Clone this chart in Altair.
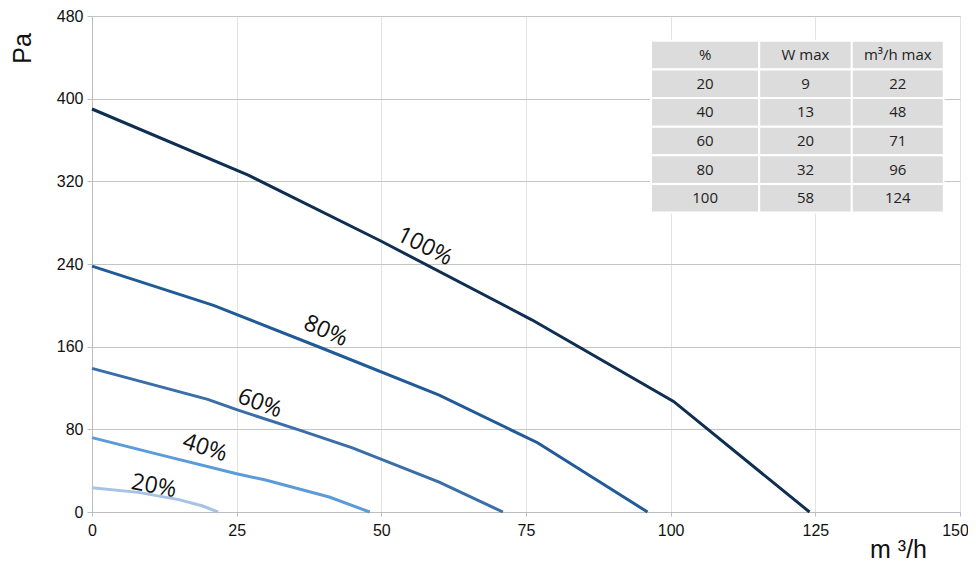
import altair as alt
import pandas as pd

# ---- curve data (m3/h, Pa) ----
flow_100 = [0, 27, 50, 76, 100.5, 124]
pres_100 = [390, 326, 262, 186, 107, 0]
flow_80 = [0, 21, 40, 60, 77, 96]
pres_80 = [238, 200, 158, 113, 67, 0]
flow_60 = [0, 20, 25, 36, 45, 60, 71]
pres_60 = [139, 109, 99, 79, 62, 29, 0]
flow_40 = [0, 12, 25, 30, 41, 48]
pres_40 = [72, 55, 37, 31, 14.5, 0]
flow_20 = [0, 8, 15, 19, 21.8]
pres_20 = [23.5, 19, 12, 6, 0]

series_names = ["100%", "80%", "60%", "40%", "20%"]
series_colors = ["#0e2f52", "#215b97", "#3a6ea8", "#5b9bd8", "#a6c3e6"]

# curve label placement (m3/h, Pa, angle)
label_x = [57.5, 40.4, 29.0, 19.5, 10.7]
label_y = [257, 175, 105, 62, 25]
label_angle = [27, 24, 20, 18, 11]

# ---- table data ----
tbl_header = ["%", "W max", "m³/h max"]
tbl_pct = ["20", "40", "60", "80", "100"]
tbl_w = ["9", "13", "20", "32", "58"]
tbl_m3h = ["22", "48", "71", "96", "124"]

# table geometry in data units
col_edges = [96.6, 115.3, 131.3, 147.2]
row_top = 456
row_h = 27.7

x_ticks = [0, 25, 50, 75, 100, 125, 150]
y_ticks = [0, 80, 160, 240, 320, 400, 480]

rows = []
for name, fx, py in zip(series_names,
                        [flow_100, flow_80, flow_60, flow_40, flow_20],
                        [pres_100, pres_80, pres_60, pres_40, pres_20]):
    for i, (a, b) in enumerate(zip(fx, py)):
        rows.append({"series": name, "flow": a, "pa": b, "order": i})
curves = pd.DataFrame(rows)

labels = pd.DataFrame({"series": series_names, "x": label_x, "y": label_y, "angle": label_angle})

cells = []
table_rows = [tbl_header] + [list(r) for r in zip(tbl_pct, tbl_w, tbl_m3h)]
for r, row in enumerate(table_rows):
    for c, txt in enumerate(row):
        cells.append({
            "x1": col_edges[c], "x2": col_edges[c + 1],
            "xc": (col_edges[c] + col_edges[c + 1]) / 2,
            "y1": row_top - r * row_h, "y2": row_top - (r + 1) * row_h,
            "yc": row_top - (r + 0.5) * row_h,
            "txt": txt,
        })
cells = pd.DataFrame(cells)

xscale = alt.Scale(domain=[0, 150], nice=False, zero=False)
yscale = alt.Scale(domain=[0, 480], nice=False, zero=False)

color = alt.Color("series:N", scale=alt.Scale(domain=series_names, range=series_colors), legend=None)

base_x = alt.X("flow:Q", scale=xscale,
               axis=alt.Axis(values=x_ticks, title="m ³/h", grid=True, gridColor="#e3e3e3",
                             domainColor="#bdbdbd", tickColor="#bdbdbd", tickSize=4,
                             labelFontSize=16, labelColor="#111", labelFont="Liberation Sans",
                             labelPadding=6, labelFlush=False,
                             labelOffset={"condition": {"test": "datum.value == 150", "value": -5}, "value": 0},
                             titleFontSize=25, titleFont="Liberation Sans", titleFontWeight="normal",
                             titleColor="#111", titleX=806, titleY=45, titleAlign="center",
                             titleBaseline="alphabetic"))
base_y = alt.Y("pa:Q", scale=yscale,
               axis=alt.Axis(values=y_ticks, title="Pa", grid=True, gridColor="#c4c4c4",
                             domainColor="#bdbdbd", tickColor="#bdbdbd", tickSize=5,
                             labelFontSize=16, labelColor="#111", labelFont="Liberation Sans",
                             labelPadding=4,
                             titleFontSize=25, titleFont="Liberation Sans", titleFontWeight="normal",
                             titleColor="#111", titleX=-57, titleY=32, titleAlign="center",
                             titleAngle=-90, titleBaseline="bottom"))

lines = alt.Chart(curves).mark_line(strokeWidth=3, strokeCap="butt").encode(
    x=base_x, y=base_y, color=color, order="order:Q", detail="series:N")

text_labels = alt.Chart(labels).mark_text(font="Open Sans", fontSize=23, color="#111").encode(
    x=alt.X("x:Q", scale=xscale), y=alt.Y("y:Q", scale=yscale), text="series:N",
    angle=alt.Angle("angle:Q", scale=None))

cell_rects = alt.Chart(cells).mark_rect(fill="#dcdcdd", stroke="white", strokeWidth=2).encode(
    x=alt.X("x1:Q", scale=xscale), x2="x2:Q",
    y=alt.Y("y1:Q", scale=yscale), y2="y2:Q")

cell_text = alt.Chart(cells).mark_text(font="Open Sans", fontSize=15, color="#222").encode(
    x=alt.X("xc:Q", scale=xscale), y=alt.Y("yc:Q", scale=yscale), text="txt:N")

chart = alt.layer(lines, text_labels, cell_rects, cell_text).properties(
    width=868, height=496,
    autosize=alt.AutoSizeParams(type="none"),
    padding={"left": 84, "top": 8, "right": 8, "bottom": 50},
).configure_view(stroke=None).configure(background="white")

chart.save("out.html", embed_options={"renderer": "svg", "actions": False})
